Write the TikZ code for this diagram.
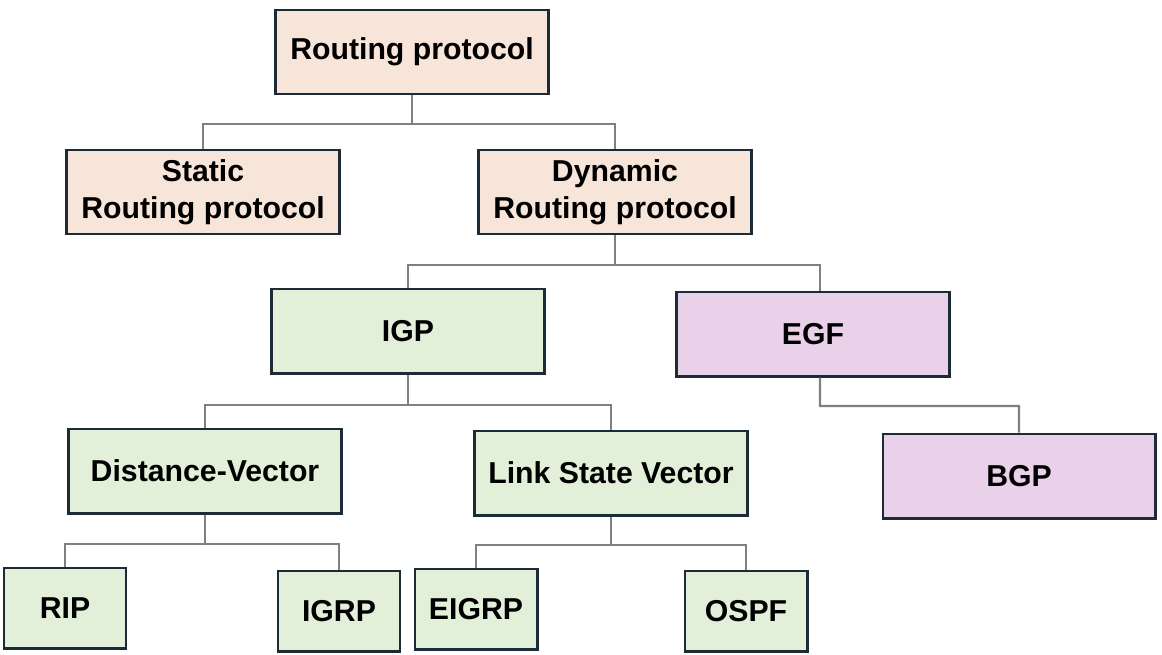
\documentclass[tikz,border=0pt]{standalone}
\usepackage{fontspec}
\setmainfont{Liberation Sans}
\definecolor{peach}{HTML}{F8E5DA}
\definecolor{mint}{HTML}{E2F0D9}
\definecolor{lilac}{HTML}{EAD1EA}
\definecolor{edge}{HTML}{1C2B36}
\definecolor{wire}{HTML}{808080}
\begin{document}
\begin{tikzpicture}[x=0.025cm, y=-0.025cm,
    box/.style={draw=edge, line width=2.1pt, minimum width=6.8cm, minimum height=2.1cm, align=center, font=\bfseries\fontsize{21.5}{26}\selectfont},
    leaf/.style={box, minimum width=3.05cm, minimum height=2cm},
    link/.style={draw=wire, line width=1.6pt}]
    \useasboundingbox (0,0) rectangle (1162,654);
    \node[box, fill=peach] (root) at (412,52) {Routing protocol};
    \node[box, fill=peach] (static) at (203,192) {Static\\Routing protocol};
    \node[box, fill=peach] (dynamic) at (615,192) {Dynamic\\Routing protocol};
    \node[box, fill=mint] (igp) at (408,331) {IGP};
    \node[box, fill=lilac] (egf) at (813,334) {EGF};
    \node[box, fill=mint] (dv) at (205,471) {Distance-Vector};
    \node[box, fill=mint] (lsv) at (611,473) {Link State Vector};
    \node[box, fill=lilac] (bgp) at (1019,476) {BGP};
    \node[leaf, fill=mint] (rip) at (65,608) {RIP};
    \node[leaf, fill=mint] (igrp) at (339,611) {IGRP};
    \node[leaf, fill=mint] (eigrp) at (476,609) {EIGRP};
    \node[leaf, fill=mint] (ospf) at (746,611) {OSPF};
    \coordinate (j1) at (412,124);
    \coordinate (j2) at (615,265);
    \coordinate (j3) at (408,405);
    \coordinate (j4) at (820,406);
    \coordinate (j5) at (205,544);
    \coordinate (j6) at (611,545);
    \draw[link] (root) -- (j1) -| (static);
    \draw[link] (j1) -| (dynamic);
    \draw[link] (dynamic) -- (j2) -| (igp);
    \draw[link] (j2) -| ([xshift=0.175cm]egf.north);
    \draw[link] (igp) -- (j3) -| (dv);
    \draw[link] (j3) -| (lsv);
    \draw[link] ([xshift=0.175cm]egf.south) -- (j4) -| (bgp);
    \draw[link] (dv) -- (j5) -| (rip);
    \draw[link] (j5) -| (igrp);
    \draw[link] (lsv) -- (j6) -| (eigrp);
    \draw[link] (j6) -| (ospf);
\end{tikzpicture}
\end{document}
